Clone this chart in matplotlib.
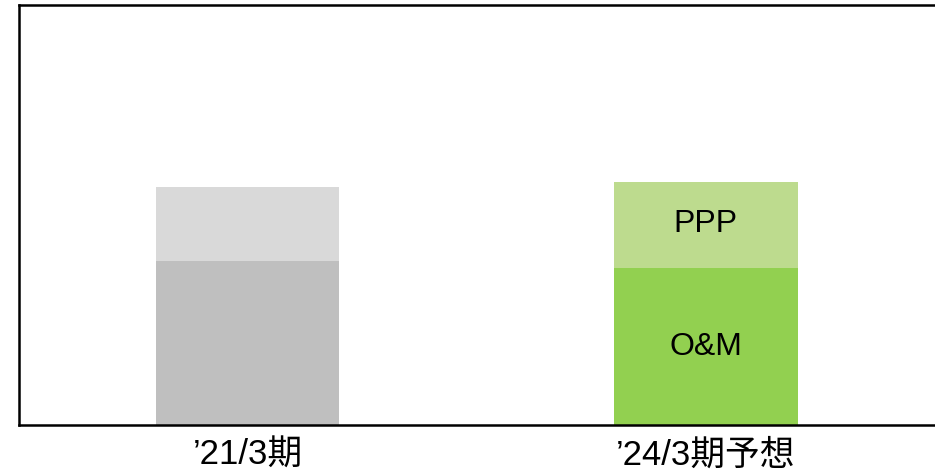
import matplotlib
matplotlib.use("Agg")
import matplotlib.pyplot as plt

plt.rcParams['font.family'] = ['Liberation Sans', 'Noto Sans CJK JP']

categories = ['\u201921/3期', '\u201924/3期予想']
om_values = [164, 157]
ppp_values = [74, 86]
bottom_colors = ['#BFBFBF', '#92D050']
top_colors = ['#D9D9D9', '#BDDB8E']

W, H = 935, 473
fig = plt.figure(figsize=(W / 100, H / 100), dpi=100)
ax = fig.add_axes([18.5 / W, (H - 424.5) / H, (W - 18.5) / W, 419 / H])

x = list(range(len(categories)))
ax.bar(x, om_values, width=0.4, color=bottom_colors)
ax.bar(x, ppp_values, width=0.4, bottom=om_values, color=top_colors)

# labels inside second bar
ax.text(x[1], om_values[1] / 2 - 1, 'O&M', ha='center', va='center', fontsize=23)
ax.text(x[1], om_values[1] + ppp_values[1] / 2 + 1, 'PPP', ha='center', va='center', fontsize=23)

ax.set_xlim(-0.5, 1.5)
ax.set_ylim(0, 419)
ax.set_xticks(x)
ax.set_xticklabels(categories, fontsize=25)
ax.tick_params(axis='x', length=0, pad=10)
ax.set_yticks([])
for s in ['top', 'left', 'bottom']:
    ax.spines[s].set_linewidth(1.8)
    ax.spines[s].set_color('black')
ax.spines['right'].set_visible(False)

fig.savefig('out.png', dpi=100)
